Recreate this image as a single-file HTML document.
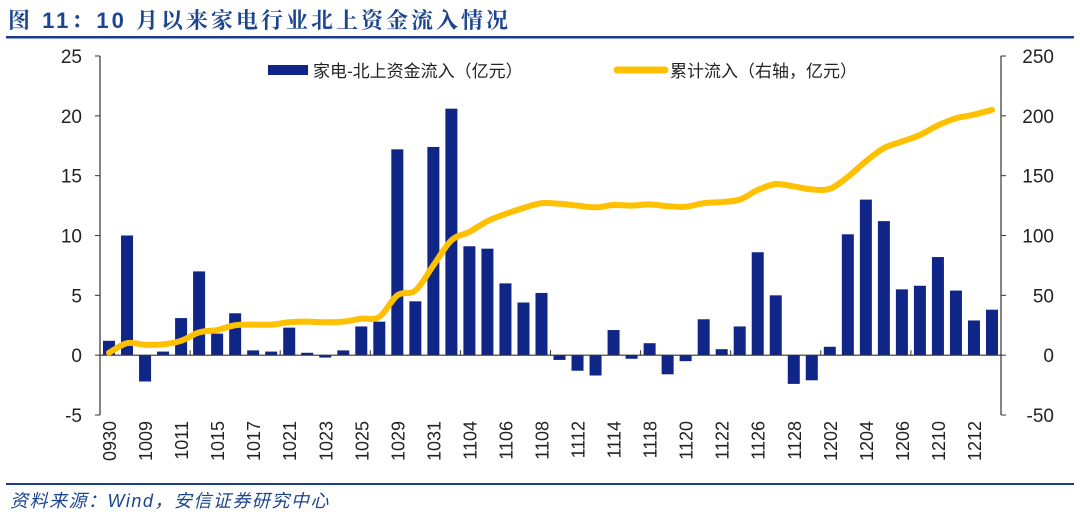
<!DOCTYPE html>
<html><head><meta charset="utf-8"><style>
body{margin:0;background:#fff;}
svg text{font-family:"Liberation Sans","Noto Sans CJK SC",sans-serif;}
</style></head><body>
<svg id="chart" width="1080" height="520" viewBox="0 0 1080 520" xmlns="http://www.w3.org/2000/svg">
<text x="8" y="28" font-size="22" font-weight="bold" fill="#1c4590" style="font-family:'Liberation Sans','Noto Serif CJK SC',serif;letter-spacing:3px">图 11：10 月以来家电行业北上资金流入情况</text>
<rect x="6" y="36" width="1068" height="2.5" fill="#1a3c8c"/>
<rect x="6" y="483" width="1068" height="2" fill="#1a3c8c"/>
<text x="10" y="507" font-size="18" font-style="italic" fill="#1c4590" style="letter-spacing:1.5px">资料来源：Wind，安信证券研究中心</text>
<g id="plot"></g>
<rect x="268" y="65" width="40" height="10" fill="#0f2587"/>
<text x="313" y="77" font-size="17" fill="#222">家电-北上资金流入（亿元）</text>
<line x1="617" y1="70" x2="665" y2="70" stroke="#ffc000" stroke-width="7" stroke-linecap="round"/>
<text x="670" y="77" font-size="17" fill="#222">累计流入（右轴，亿元）</text>
</svg>
<script>
const categories=["0930","1008","1009","1010","1011","1014","1015","1016","1017","1018","1021","1022","1023","1024","1025","1028","1029","1030","1031","1101","1104","1105","1106","1107","1108","1111","1112","1113","1114","1115","1118","1119","1120","1121","1122","1125","1126","1127","1128","1129","1202","1203","1204","1205","1206","1209","1210","1211","1212","1213"];
const dailyFlow=[1.2,10.0,-2.2,0.3,3.1,7.0,1.8,3.5,0.4,0.3,2.3,0.2,-0.2,0.4,2.4,2.8,17.2,4.5,17.4,20.6,9.1,8.9,6.0,4.4,5.2,-0.4,-1.3,-1.7,2.1,-0.3,1.0,-1.6,-0.5,3.0,0.5,2.4,8.6,5.0,-2.4,-2.1,0.7,10.1,13.0,11.2,5.5,5.8,8.2,5.4,2.9,3.8];
const cumFlow=[2,10,8.7,9,12,19,21,25,25.5,25.5,27.5,28,27.5,28,30.5,32,50,54,75,96,103,112,118,123,127,126.5,125,123.5,125.5,125,126,124.5,124,127,128,130,138,143,141,138.5,139,149,162,173,178.5,184,192,198,201,205];
const leftTicks=[-5,0,5,10,15,20,25];
const rightTicks=[-50,0,50,100,150,200,250];
const NS="http://www.w3.org/2000/svg";
const g=document.getElementById('plot');
const X0=100,X1=1001,Y0=56,Y1=415;
const step=(X1-X0)/categories.length;
const yL=v=>Y1-(v+5)/30*(Y1-Y0);
const yR=v=>Y1-(v+50)/300*(Y1-Y0);
const xC=i=>X0+step*(i+0.5);
function mk(t,a){const e=document.createElementNS(NS,t);for(const k in a)e.setAttribute(k,a[k]);g.appendChild(e);return e;}
dailyFlow.forEach((v,i)=>{
  const y=Math.min(yL(v),yL(0)),h=Math.abs(yL(v)-yL(0));
  const r=mk('rect',{x:xC(i)-6,y:y,width:12,height:Math.max(h,1),fill:'#0f2587'});
  
  
});
const al=mk('line',{x1:X0,y1:Y0,x2:X0,y2:Y1,stroke:'#333','stroke-width':1.2});


const ar=mk('line',{x1:X1,y1:Y0,x2:X1,y2:Y1,stroke:'#333','stroke-width':1.2});


const ax=mk('line',{x1:X0,y1:yL(0),x2:X1,y2:yL(0),stroke:'#333','stroke-width':1.2});


for(let i=0;i<=categories.length;i+=5){
  const t=mk('line',{x1:X0+step*i,y1:yL(0),x2:X0+step*i,y2:yL(0)-5,stroke:'#333'});
  
  
}
leftTicks.forEach(v=>{
  const t=mk('line',{x1:X0-5,y1:yL(v),x2:X0,y2:yL(v),stroke:'#333'});
  
  
  const l=mk('text',{x:82,y:yL(v)+7,'font-size':19,'text-anchor':'end',fill:'#222'});
  l.textContent=v;
  
  
});
rightTicks.forEach(v=>{
  const t=mk('line',{x1:X1,y1:yR(v),x2:X1+5,y2:yR(v),stroke:'#333'});
  
  
  const l=mk('text',{x:1054,y:yR(v)+7,'font-size':19,'text-anchor':'end',fill:'#222'});
  l.textContent=v;
  
  
});
categories.forEach((c,i)=>{
  if(i%2)return;
  const l=mk('text',{x:0,y:0,'font-size':18,'text-anchor':'end',fill:'#222',transform:`translate(${xC(i)+7},421) rotate(-90)`});
  l.textContent=c;
  
  
});
const pts=cumFlow.map((v,i)=>[xC(i),yR(v)]);
let d=`M${pts[0][0]},${pts[0][1]}`;
for(let i=0;i<pts.length-1;i++){
  const p0=pts[Math.max(i-1,0)],p1=pts[i],p2=pts[i+1],p3=pts[Math.min(i+2,pts.length-1)];
  const c1=[p1[0]+(p2[0]-p0[0])/6,p1[1]+(p2[1]-p0[1])/6],c2=[p2[0]-(p3[0]-p1[0])/6,p2[1]-(p3[1]-p1[1])/6];
  d+=` C${c1[0]},${c1[1]} ${c2[0]},${c2[1]} ${p2[0]},${p2[1]}`;
}
const ln=mk('path',{d:d,fill:'none',stroke:'#ffc000','stroke-width':6,'stroke-linecap':'round','stroke-linejoin':'round'});


</script>
</body></html>
